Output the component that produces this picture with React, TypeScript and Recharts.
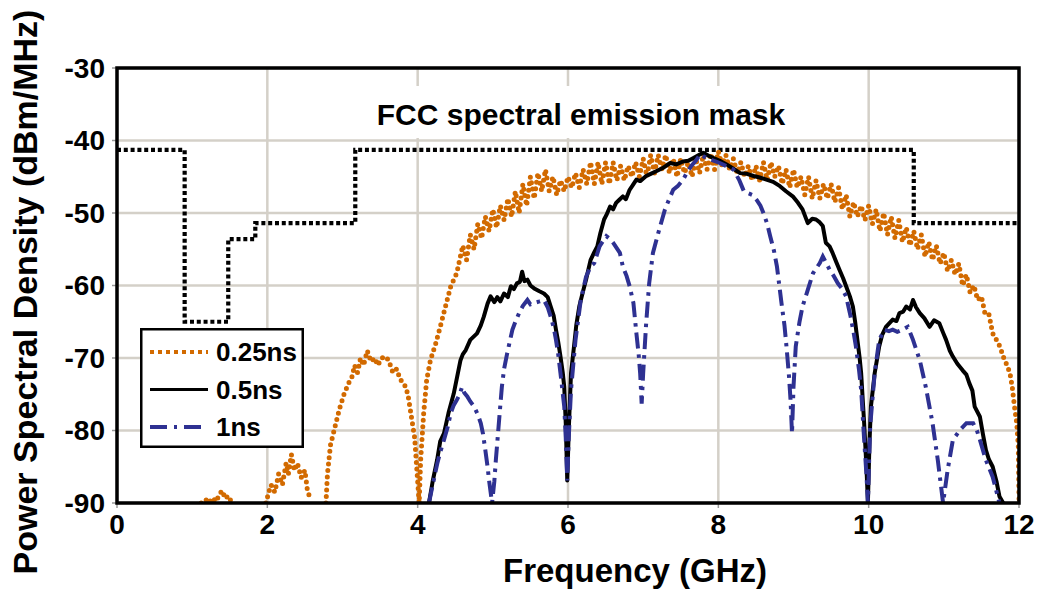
import React from 'react';
import { LineChart, Line, XAxis, YAxis, CartesianGrid, Legend } from 'recharts';

// frequency (GHz) / PSD (dBm/MHz) pairs
type Pt = [number, number | null];

const freqTicks = [0, 2, 4, 6, 8, 10, 12];
const psdTicks = [-90, -80, -70, -60, -50, -40, -30];

// FCC indoor UWB emission mask
const maskPts: Pt[] = [
  [0, -41.3], [0.9, -41.3], [0.9, -65], [1.48, -65], [1.48, -53.6], [1.84, -53.6],
  [1.84, -51.4], [3.17, -51.4], [3.17, -41.3], [10.6, -41.3], [10.6, -51.4], [12, -51.4],
];

// 0.25 ns pulse
const pulse025: Pt[] = [
  [1.12, -90], [1.18, -89.5], [1.22, -90], [1.27, -89.3], [1.32, -89.8], [1.36, -88.8],
  [1.4, -88.3], [1.44, -89.4], [1.48, -89], [1.53, -90], [1.6, null],
  [1.98, -90], [2.02, -88.5], [2.05, -87.5], [2.1, -88.5], [2.15, -86], [2.2, -87.5],
  [2.25, -84.5], [2.28, -86], [2.32, -83.3], [2.36, -85.5], [2.4, -84.5], [2.45, -86.5],
  [2.5, -85.5], [2.53, -88], [2.57, -89.5], [2.7, null],
  [2.78, -90], [2.8, -86], [2.84, -82], [2.9, -79.5], [2.96, -77], [3.02, -75],
  [3.08, -73.5], [3.13, -72.5], [3.16, -71], [3.2, -72], [3.24, -70], [3.28, -71],
  [3.33, -69], [3.38, -70.5], [3.43, -70], [3.47, -71], [3.52, -70], [3.58, -69.8],
  [3.62, -70.5], [3.67, -72], [3.72, -71.5], [3.77, -73], [3.82, -73.5], [3.87, -75],
  [3.9, -77], [3.93, -79], [3.96, -81], [3.98, -84], [4.0, -87], [4.02, -90],
  [4.04, -84], [4.08, -77.6], [4.12, -73], [4.17, -70.3], [4.24, -68], [4.3, -65.7],
  [4.37, -62.9], [4.44, -60.1], [4.52, -58.3],
  [4.6, -54.5], [4.65, -56.5], [4.7, -53], [4.75, -55], [4.8, -51.5], [4.85, -53.5],
  [4.9, -50.5], [4.95, -52.5], [5.0, -49.5], [5.05, -52], [5.1, -49], [5.15, -51],
  [5.2, -48], [5.25, -50.5], [5.3, -47], [5.35, -50], [5.4, -46], [5.45, -49],
  [5.5, -45], [5.55, -48], [5.6, -44.5], [5.65, -47], [5.7, -44], [5.75, -47],
  [5.8, -45], [5.85, -47.5], [5.9, -45.5], [5.95, -47], [6.0, -45], [6.05, -46.5],
  [6.1, -44.5], [6.15, -46.5], [6.2, -44], [6.25, -46], [6.3, -43], [6.35, -46],
  [6.4, -43], [6.45, -46], [6.5, -43], [6.55, -46], [6.6, -43], [6.65, -45.5],
  [6.7, -43.5], [6.75, -45.5], [6.8, -43.5], [6.85, -45], [6.9, -43], [6.95, -45],
  [7.0, -42.5], [7.05, -45], [7.1, -42], [7.15, -44.5], [7.2, -42], [7.25, -44],
  [7.3, -42], [7.35, -44.5], [7.4, -42.5], [7.45, -45], [7.5, -42.5], [7.55, -44.5],
  [7.6, -43], [7.65, -45], [7.7, -42.5], [7.75, -44.5], [7.8, -42], [7.85, -44],
  [7.9, -41.8], [7.95, -44], [8.0, -41.5], [8.05, -43.5], [8.1, -42], [8.15, -44],
  [8.2, -42.5], [8.25, -44.5], [8.3, -43], [8.35, -45], [8.4, -43.5], [8.45, -45.5],
  [8.5, -43.5], [8.55, -45.5], [8.6, -43], [8.65, -45.5], [8.7, -43], [8.75, -45],
  [8.8, -43.5], [8.85, -46], [8.9, -44], [8.95, -46.5], [9.0, -44], [9.05, -46.5],
  [9.1, -45], [9.15, -47.5], [9.2, -45], [9.25, -48], [9.3, -45.5], [9.35, -48],
  [9.4, -46], [9.45, -48], [9.5, -46], [9.55, -48.5], [9.6, -46.5], [9.65, -49.5],
  [9.7, -47.5], [9.75, -50.5], [9.8, -48.5], [9.85, -50.5], [9.9, -49], [9.95, -51],
  [10.0, -49], [10.05, -51.5], [10.1, -49.5], [10.15, -52.5], [10.2, -50], [10.25, -53],
  [10.3, -50.5], [10.35, -53.5], [10.4, -51], [10.45, -54], [10.5, -52], [10.55, -54.5],
  [10.6, -52.5], [10.65, -55], [10.7, -53], [10.75, -56], [10.8, -54], [10.85, -56.5],
  [10.9, -54.5], [10.95, -57], [11.0, -55.5], [11.05, -58], [11.1, -56.5], [11.15, -58.5],
  [11.2, -57], [11.25, -60], [11.3, -58.5], [11.35, -61], [11.4, -60], [11.45, -62],
  [11.5, -61.5], [11.55, -64], [11.6, -64], [11.65, -66.6], [11.7, -67.5], [11.75, -68.5],
  [11.79, -69.8], [11.84, -71], [11.88, -72.1], [11.91, -74], [11.94, -76.7], [11.97, -79],
  [11.99, -82], [12.0, -89.5],
];

// 0.5 ns pulse
const pulse05: Pt[] = [
  [4.15, -90], [4.2, -87], [4.26, -84], [4.3, -81.5], [4.35, -80.4], [4.41, -77.6],
  [4.48, -74.9], [4.57, -70.3], [4.6, -69.5], [4.64, -68.9], [4.7, -67.5], [4.79, -66.6],
  [4.84, -65.5], [4.88, -64.3], [4.93, -62.5], [4.97, -61.5], [5.02, -62.3], [5.06, -61.6],
  [5.1, -62.2], [5.15, -61.1], [5.2, -61.6], [5.24, -60.1], [5.28, -60.5], [5.32, -59.7],
  [5.36, -59.5], [5.39, -58.1], [5.42, -59.4], [5.46, -59.2], [5.5, -60], [5.55, -60.4],
  [5.62, -60.8], [5.68, -61.1], [5.73, -61.6], [5.77, -62.9], [5.81, -64.2], [5.84, -66.1],
  [5.87, -67.8], [5.9, -69.8], [5.93, -72], [5.95, -74], [5.97, -79], [5.99, -86.9],
  [6.01, -80], [6.04, -72.1], [6.08, -68.4], [6.11, -65.5], [6.15, -62.9], [6.2, -60.8],
  [6.24, -59.2], [6.3, -56.5], [6.35, -55.4], [6.39, -54.6], [6.43, -52.8], [6.48, -50.9],
  [6.51, -50.3], [6.56, -49.1], [6.6, -49.5], [6.64, -48.6], [6.68, -48.2], [6.73, -47.7],
  [6.77, -48.1], [6.82, -46.8], [6.86, -46.2], [6.91, -45.4], [6.96, -45.6], [7.04, -44.9],
  [7.1, -44.6], [7.18, -44.2], [7.26, -43.8], [7.36, -43.1], [7.44, -43.3], [7.53, -42.9],
  [7.6, -42.8], [7.67, -42.4], [7.74, -42], [7.8, -41.7], [7.87, -42.1], [7.93, -42.4],
  [8.02, -42.8], [8.11, -43.3], [8.2, -43.9], [8.29, -44.5], [8.38, -44.6], [8.47, -44.9],
  [8.55, -45.1], [8.64, -45.4], [8.73, -45.7], [8.82, -46.3], [8.9, -47], [8.99, -47.7],
  [9.06, -48.6], [9.12, -49.5], [9.19, -51.4], [9.25, -50.8], [9.3, -50.9], [9.35, -51.3],
  [9.39, -51.8], [9.43, -54.1], [9.48, -54.6], [9.52, -55.5], [9.57, -56.8], [9.61, -57.8],
  [9.66, -59], [9.7, -60.1], [9.75, -61.5], [9.79, -62.9], [9.82, -65], [9.85, -67.5],
  [9.88, -70], [9.9, -72.1], [9.94, -79], [9.97, -85], [9.99, -89.9], [10.01, -82],
  [10.03, -76.7], [10.08, -72.1], [10.14, -68.4], [10.18, -66.8], [10.23, -65.7], [10.32, -64.7],
  [10.37, -64.9], [10.41, -63.8], [10.46, -63.6], [10.5, -62.9], [10.55, -63.3], [10.59, -62],
  [10.63, -63], [10.68, -63.8], [10.74, -64.5], [10.81, -65.7], [10.87, -64.8], [10.94, -65.2],
  [10.99, -66.5], [11.03, -67.5], [11.08, -69], [11.12, -69.8], [11.18, -70.8], [11.25, -71.7],
  [11.3, -72.3], [11.34, -73.5], [11.38, -74.5], [11.41, -76.7], [11.48, -78.1], [11.52, -80.5],
  [11.56, -82.7], [11.6, -84], [11.65, -85], [11.7, -87], [11.74, -89.1], [11.79, -90],
];

// 1 ns pulse
const pulse1: Pt[] = [
  [4.15, -90], [4.2, -87.5], [4.26, -84.6], [4.3, -83], [4.35, -81.3], [4.4, -79.5],
  [4.44, -77.6], [4.48, -76.5], [4.52, -75.8], [4.56, -75], [4.59, -74], [4.62, -74.8],
  [4.66, -75.3], [4.7, -76], [4.75, -76.7], [4.8, -77.8], [4.84, -79], [4.87, -80.5],
  [4.9, -82.7], [4.93, -85], [4.95, -86.9], [4.99, -90], [5.02, -87], [5.04, -84.1],
  [5.08, -79], [5.12, -74], [5.15, -71.5], [5.19, -69.4], [5.26, -66.1], [5.3, -65],
  [5.35, -63.8], [5.4, -62.8], [5.46, -62], [5.5, -62.6], [5.55, -62.4], [5.62, -62.2],
  [5.68, -62], [5.73, -63], [5.77, -64.3], [5.81, -65.8], [5.84, -67.5], [5.87, -69.5],
  [5.9, -72.1], [5.95, -76.7], [5.97, -81], [5.99, -86.9], [6.01, -81], [6.04, -74.4],
  [6.1, -67.5], [6.17, -62], [6.24, -58.8], [6.3, -57.4], [6.35, -56.9], [6.42, -54.6],
  [6.47, -53.8], [6.51, -53.2], [6.56, -53.6], [6.6, -54.1], [6.69, -55.5], [6.73, -57.4],
  [6.78, -58.7], [6.82, -60.1], [6.87, -62.4], [6.91, -66.6], [6.94, -69.5], [6.96, -72.1],
  [6.98, -76.3], [7.0, -72.1], [7.04, -65.2], [7.08, -59.7], [7.13, -55.5], [7.2, -52.8],
  [7.29, -49.5], [7.35, -48], [7.4, -46.8], [7.46, -46.3], [7.53, -45.4], [7.58, -44.5],
  [7.64, -43.5], [7.7, -42.8], [7.76, -41.9], [7.82, -42.3], [7.89, -42.6], [8.02, -43.1],
  [8.1, -43.5], [8.2, -44], [8.28, -45.5], [8.34, -47], [8.38, -47.2], [8.45, -47.5],
  [8.51, -48.2], [8.56, -49], [8.6, -50], [8.65, -51.5], [8.69, -53.2], [8.74, -55.2],
  [8.78, -57.4], [8.84, -62.4], [8.88, -65.5], [8.91, -68.8], [8.94, -72.5], [8.96, -75.7],
  [8.98, -80.4], [9.0, -74], [9.03, -68.4], [9.08, -65], [9.12, -62.9], [9.19, -60.6],
  [9.26, -58.3], [9.35, -56.9], [9.39, -56], [9.43, -56.8], [9.48, -57.8], [9.53, -58.6],
  [9.59, -59.7], [9.65, -60.5], [9.7, -61.5], [9.76, -64.3], [9.8, -66.5], [9.83, -68.4],
  [9.87, -71.5], [9.9, -74.4], [9.94, -81.3], [9.97, -86], [9.99, -90], [10.02, -79.4],
  [10.08, -72.1], [10.14, -67.5], [10.21, -66.1], [10.27, -66.3], [10.32, -66.1], [10.38, -66.4],
  [10.45, -66.1], [10.52, -65.7], [10.59, -67.5], [10.68, -70.3], [10.76, -74], [10.85, -79],
  [10.92, -84.1], [10.99, -90], [11.05, -85.5], [11.12, -81.3], [11.21, -80], [11.3, -79],
  [11.39, -79], [11.44, -80], [11.48, -81.3], [11.56, -84.1], [11.65, -86.4], [11.74, -90],
];

const toRows = (pts: Pt[]) => pts.map(([f, v]) => ({ f, v }));

const FONT = '"Liberation Sans", Arial, Helvetica, sans-serif';
const ORANGE = '#d26a00';
const BLUE = '#2e3192';
const GRID = '#d4d0c8';

const W = 1041;
const H = 593;
const PLOT = { left: 117, top: 68, right: 1019, bottom: 503 };

const legendItems = [
  { name: '0.25ns', color: ORANGE, dash: '4 4', width: 4 },
  { name: '0.5ns', color: '#000', dash: undefined, width: 3 },
  { name: '1ns', color: BLUE, dash: '17 7 3 7', width: 4 },
];

function LegendBox() {
  return (
    <svg width={164} height={120} style={{ display: 'block' }}>
      <rect x={1.25} y={1.25} width={161.5} height={117.5} fill="#fff" stroke="#000" strokeWidth={2.5} />
      {legendItems.map((it, i) => {
        const y = 24 + i * 37.5;
        return (
          <g key={it.name}>
            <line x1={10} x2={68} y1={y} y2={y} stroke={it.color} strokeWidth={it.width}
              strokeDasharray={it.dash} />
            <text x={76} y={y} dy="0.36em" fontFamily={FONT} fontWeight="bold" fontSize={26} fill="#000">
              {it.name}
            </text>
          </g>
        );
      })}
    </svg>
  );
}

const tickStyle = { fontFamily: FONT, fontWeight: 'bold' as const, fontSize: 28, fill: '#000' };

export default function App() {
  return (
    <div style={{ position: 'absolute', left: 0, top: 0, width: W, height: H, background: '#fff' }}>
      <LineChart width={W} height={H} margin={{ top: PLOT.top, right: W - PLOT.right, bottom: 0, left: 0 }}>
        <CartesianGrid stroke={GRID} strokeWidth={2.5} />
        <XAxis
          type="number"
          dataKey="f"
          domain={[0, 12]}
          ticks={freqTicks}
          height={H - PLOT.bottom}
          allowDataOverflow
          axisLine={false}
          tickLine={{ stroke: '#999', strokeWidth: 1.5 }}
          tickSize={5}
          tickMargin={6}
          tick={tickStyle}
        />
        <YAxis
          type="number"
          domain={[-90, -30]}
          ticks={psdTicks}
          width={PLOT.left}
          allowDataOverflow
          axisLine={false}
          tickLine={{ stroke: '#999', strokeWidth: 1.5 }}
          tickSize={5}
          tickMargin={7}
          tick={tickStyle}
        />
        {/* vertical + centered keeps the legend out of the layout offsets */}
        <Legend
          layout="vertical"
          align="center"
          verticalAlign="middle"
          content={() => <LegendBox />}
          wrapperStyle={{ position: 'absolute', left: 140, top: 328, width: 164, height: 120 }}
        />
        <Line data={toRows(maskPts)} dataKey="v" type="linear" stroke="#000" strokeWidth={4.2}
          strokeDasharray="4 2.8" dot={false} isAnimationActive={false} legendType="none" />
        <Line data={toRows(pulse025)} dataKey="v" name="0.25ns" type="linear" stroke={ORANGE}
          strokeWidth={5} strokeDasharray="0 6.5" strokeLinecap="round" dot={false}
          isAnimationActive={false} />
        <Line data={toRows(pulse05)} dataKey="v" name="0.5ns" type="linear" stroke="#000"
          strokeWidth={4} strokeLinejoin="round" dot={false} isAnimationActive={false} />
        <Line data={toRows(pulse1)} dataKey="v" name="1ns" type="linear" stroke={BLUE}
          strokeWidth={4} strokeDasharray="16 6 3.5 6" dot={false} isAnimationActive={false} />
      </LineChart>
      <svg width={W} height={H} style={{ position: 'absolute', left: 0, top: 0, pointerEvents: 'none' }}>
        <rect x={PLOT.left} y={PLOT.top} width={PLOT.right - PLOT.left} height={PLOT.bottom - PLOT.top}
          fill="none" stroke="#000" strokeWidth={3.5} />
        <rect x={366} y={86} width={432} height={52} fill="#fff" />
        <text x={581} y={125} textAnchor="middle" fontFamily={FONT} fontWeight="bold" fontSize={30} fill="#000">
          FCC spectral emission mask
        </text>
        <text x={635} y={582} textAnchor="middle" fontFamily={FONT} fontWeight="bold" fontSize={33} fill="#000">
          Frequency (GHz)
        </text>
        <text transform="translate(37 292) rotate(-90)" textAnchor="middle" fontFamily={FONT}
          fontWeight="bold" fontSize={34} fill="#000">
          Power Spectral Density (dBm/MHz)
        </text>
      </svg>
    </div>
  );
}
